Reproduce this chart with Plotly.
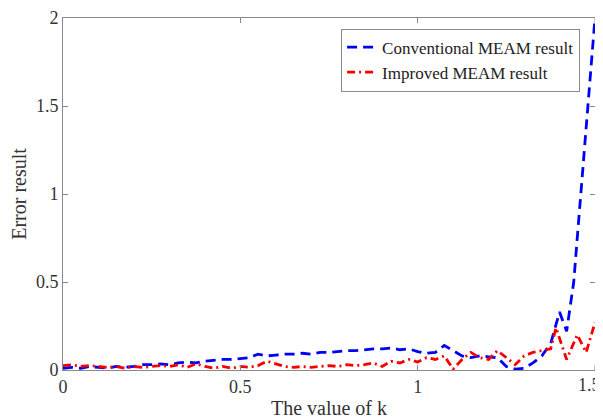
import plotly.graph_objects as go

conv_x = [0, 0.025, 0.05, 0.075, 0.1, 0.125, 0.15, 0.175, 0.2, 0.225, 0.25, 0.275, 0.3, 0.325, 0.35, 0.375,
          0.4, 0.425, 0.45, 0.475, 0.5, 0.525, 0.55, 0.575, 0.6, 0.625, 0.65, 0.675, 0.7, 0.725, 0.75, 0.775,
          0.8, 0.825, 0.85, 0.875, 0.9, 0.925, 0.95, 0.975, 1.0, 1.025, 1.05, 1.075, 1.1, 1.125, 1.15, 1.175,
          1.2, 1.225, 1.25, 1.275, 1.3, 1.325, 1.35, 1.375, 1.4, 1.42, 1.44, 1.46, 1.48, 1.5]
conv_y = [0.01, 0.015, 0.01, 0.02, 0.015, 0.01, 0.02, 0.015, 0.02, 0.03, 0.03, 0.035, 0.03, 0.04, 0.045, 0.04,
          0.05, 0.055, 0.06, 0.06, 0.065, 0.07, 0.09, 0.08, 0.085, 0.09, 0.09, 0.095, 0.09, 0.1, 0.1, 0.105,
          0.11, 0.11, 0.115, 0.12, 0.12, 0.125, 0.115, 0.12, 0.105, 0.095, 0.1, 0.14, 0.11, 0.08, 0.07, 0.08,
          0.075, 0.07, 0.02, 0.005, 0.01, 0.04, 0.08, 0.15, 0.33, 0.22, 0.5, 1.0, 1.5, 2.0]

impr_x = [0, 0.025, 0.05, 0.075, 0.1, 0.125, 0.15, 0.175, 0.2, 0.225, 0.25, 0.275, 0.3, 0.325, 0.35, 0.375,
          0.4, 0.425, 0.45, 0.475, 0.5, 0.525, 0.55, 0.575, 0.6, 0.625, 0.65, 0.675, 0.7, 0.725, 0.75, 0.775,
          0.8, 0.825, 0.85, 0.875, 0.9, 0.925, 0.95, 0.975, 1.0, 1.025, 1.05, 1.075, 1.1, 1.125, 1.15, 1.175,
          1.2, 1.225, 1.25, 1.275, 1.3, 1.325, 1.35, 1.375, 1.39, 1.42, 1.45, 1.475, 1.5]
impr_y = [0.025, 0.03, 0.02, 0.025, 0.02, 0.015, 0.02, 0.01, 0.02, 0.015, 0.02, 0.025, 0.02, 0.03, 0.015, 0.035,
          0.02, 0.01, 0.02, 0.01, 0.02, 0.015, 0.025, 0.05, 0.035, 0.02, 0.015, 0.02, 0.015, 0.02, 0.025, 0.02,
          0.03, 0.025, 0.03, 0.04, 0.02, 0.05, 0.04, 0.06, 0.045, 0.07, 0.06, 0.08, 0.005, 0.06, 0.1, 0.07,
          0.06, 0.11, 0.07, 0.03, 0.08, 0.1, 0.11, 0.12, 0.24, 0.06, 0.2, 0.1, 0.27]

x_ticks = [0, 0.5, 1, 1.5]
x_tick_labels = ["0", "0.5", "1", "1.5"]
y_ticks = [0, 0.5, 1, 1.5, 2]
y_tick_labels = ["0", "0.5", "1", "1.5", "2"]

font_family = "Liberation Serif, Times New Roman, serif"
tick_font = dict(family=font_family, size=18, color="#333333")

fig = go.Figure()
fig.add_trace(go.Scatter(x=conv_x, y=conv_y, mode="lines", name="Conventional MEAM result",
                         line=dict(color="#0000f5", width=2.8, dash="10px,6px")))
fig.add_trace(go.Scatter(x=impr_x, y=impr_y, mode="lines", name="Improved MEAM result",
                         line=dict(color="#f50000", width=2.8, dash="8px,4px,2px,4px")))

axis_common = dict(showline=True, linecolor="#8a8a8a", linewidth=1, mirror="ticks",
                   ticks="inside", ticklen=5, tickcolor="#8a8a8a", showgrid=False, zeroline=False,
                   automargin=False, tickfont=tick_font)

# The page body adds an 8px offset, so the figure is sized to fill 603x419 with that offset.
fig.update_layout(
    width=595, height=411,
    margin=dict(l=55, r=8, t=10, b=49),
    paper_bgcolor="white", plot_bgcolor="white",
    font=dict(family=font_family, color="#333333"),
    xaxis=dict(range=[0, 1.5], tickvals=x_ticks[:-1], ticktext=x_tick_labels[:-1],
               title=dict(text="The value of k", font=dict(family=font_family, size=20), standoff=5),
               **axis_common),
    yaxis=dict(range=[0, 2], tickvals=y_ticks, ticktext=y_tick_labels,
               title=dict(text="Error result", font=dict(family=font_family, size=20), standoff=6),
               **axis_common),
    legend=dict(x=0.972, y=0.97, xanchor="right", yanchor="top",
                bgcolor="white", bordercolor="#8a8a8a", borderwidth=1,
                font=dict(family=font_family, size=17, color="#222222"),
                tracegroupgap=0, itemwidth=30),
    showlegend=True,
)

# Last x tick sits on the figure's right edge; its label is anchored flush to that edge.
fig.add_shape(type="line", xref="x", yref="paper", x0=x_ticks[-1], x1=x_ticks[-1], y0=0, y1=0.014,
              line=dict(color="#8a8a8a", width=1))
fig.add_shape(type="line", xref="x", yref="paper", x0=x_ticks[-1], x1=x_ticks[-1], y0=0.986, y1=1,
              line=dict(color="#8a8a8a", width=1))
fig.add_annotation(x=x_ticks[-1], xref="x", y=0, yref="paper", text=x_tick_labels[-1],
                   showarrow=False, xanchor="right", yanchor="top", xshift=8, yshift=-3,
                   font=tick_font)

fig.write_html("out.html")
